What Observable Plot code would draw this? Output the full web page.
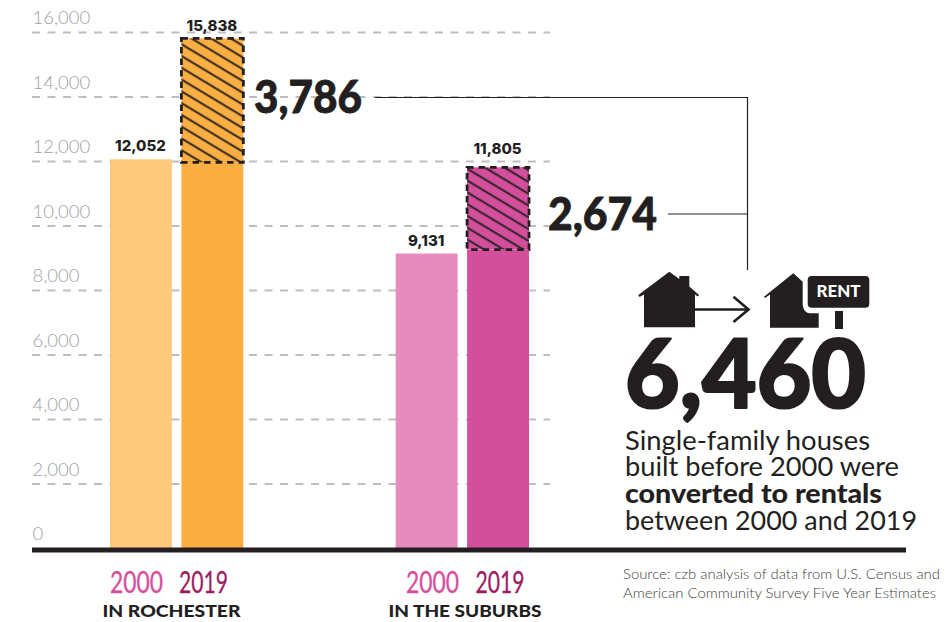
<!DOCTYPE html>
<html><head><meta charset="utf-8">
<style>html,body{margin:0;padding:0;background:#fff;overflow:hidden}svg{display:block}</style>
<script src="https://cdn.jsdelivr.net/npm/d3@7"></script>
<script src="https://cdn.jsdelivr.net/npm/@observablehq/plot@0.6"></script>
</head><body><script>
const slots = ["R2000","R2019","gapA","gapB","S2000","S2019"];
const barSlots = ["R2000","R2019","S2000","S2019"];
const barValues = [12052,15838,9131,11805];
const barColors = ["#fec97d","#fbae42","#e68bbb","#d34f9c"];
const solidTops = [12052,11960,9131,9255];
const labelLift = [-14,-12,-13,-19];
const hatchSlots = ["R2019","S2019"];
const hatchBases = [11960,9255];
const hatchTops = [15800,11805];
const hatchColors = ["#fbae42","#d34f9c"];
const yTicks = [0,2000,4000,6000,8000,10000,12000,14000,16000];
const INK = "#231f20", FONT = "Lato, 'Open Sans', sans-serif";

const bars = barSlots.map((s,i)=>({s,v:barValues[i],top:solidTops[i],c:barColors[i],lift:labelLift[i]}));
const hatches = hatchSlots.map((s,i)=>({s,b:hatchBases[i],t:hatchTops[i],c:hatchColors[i]}));

function decor() {
  const g = d3.create("svg:g");
  const pat = g.append("defs").append("pattern").attr("id","hatch")
    .attr("patternUnits","userSpaceOnUse").attr("width",10).attr("height",10.1)
    .attr("patternTransform","rotate(31)");
  pat.append("line").attr("x1",0).attr("x2",10).attr("y1",5).attr("y2",5)
    .attr("stroke",INK).attr("stroke-width",1.9);
  return g.node();
}
function annotations() {
  const g = d3.create("svg:g").attr("font-family",FONT).attr("fill",INK);
  const T = (x,y,s,o={}) => {
    const t = g.append("text").attr("x",x).attr("y",y).text(s)
      .attr("font-size",o.size||14).attr("font-weight",o.w||400)
      .attr("fill",o.fill||INK).attr("text-anchor",o.a||"start");
    if (o.len) t.attr("textLength",o.len).attr("lengthAdjust","spacingAndGlyphs");
    if (o.sw) t.attr("stroke",o.fill||INK).attr("stroke-width",o.sw).attr("stroke-linejoin","round");
    return t;
  };
  const P = (d,o={}) => g.append("path").attr("d",d).attr("fill",o.fill||"none")
    .attr("stroke",o.stroke||"none").attr("stroke-width",o.sw||1);
  P("M375 97.5H747.5V270M668 214H747.5",{stroke:INK,sw:1.2});
  T(254,113,"3,786",{size:46,w:900,len:108,sw:0.8});
  T(548,230,"2,674",{size:46,w:900,len:109,sw:0.8});
  P("M669.3 271.7L679.3 279V276H689.3V286.5L699 295L697.8 296.5L695 294.5V327.3H644V294.5L639.5 297L638.3 295Z",{fill:INK});
  P("M695 309.5H748M733.5 296.8L748.5 309.5L733.5 322",{stroke:INK,sw:2.6});
  P("M793.3 273.3L802.7 281.7V305Q804 313.3 810 313.3H818.7V327.7H770V294.5L765 298L764 296.7Z",{fill:INK});
  g.append("rect").attr("x",807.7).attr("y",276).attr("width",61.6).attr("height",31.7).attr("rx",4).attr("fill",INK);
  g.append("rect").attr("x",835).attr("y",311).attr("width",8).attr("height",18).attr("fill",INK);
  T(838.5,297,"RENT",{size:16,w:900,fill:"#fff",a:"middle",len:44});
  T(625,408,"6,460",{size:95,w:900,len:241,sw:2.2});
  T(625,450,"Single-family houses",{size:26.5,len:245});
  T(625,476,"built before 2000 were",{size:26.5,len:274});
  T(625,503,"converted to rentals",{size:26.5,w:900,len:257});
  T(625,530,"between 2000 and 2019",{size:26.5,len:292});
  T(623,579,"Source: czb analysis of data from U.S. Census and",{size:13.5,w:300,len:317,fill:"#414042"});
  T(623,598,"American Community Survey Five Year Estimates",{size:13.5,w:300,len:313,fill:"#414042"});
  T(136.5,593,"2000",{size:31,fill:"#d54f9c",a:"middle",len:53,sw:0.3});
  T(203.5,593,"2019",{size:31,fill:"#9c1c63",a:"middle",len:49,sw:0.3});
  T(432.5,593,"2000",{size:31,fill:"#d54f9c",a:"middle",len:53,sw:0.3});
  T(500,593,"2019",{size:31,fill:"#9c1c63",a:"middle",len:49,sw:0.3});
  T(171.5,617,"IN ROCHESTER",{size:16.5,w:900,a:"middle",len:138});
  T(465,617,"IN THE SUBURBS",{size:16.5,w:900,a:"middle",len:153});
  return g.node();
}

const valueLabels = [...new Set(labelLift)].map(lift =>
  Plot.text(bars.filter(d=>d.lift===lift),{x:"s",y:"v",text:d=>d3.format(",")(d.v),dy:lift,dx:-1,
    fontSize:15,fontWeight:800,fontFamily:"Inter, Lato, sans-serif",fill:INK}));

const chart = Plot.plot({
  width:947, height:622,
  marginLeft:32, marginRight:397, marginTop:0, marginBottom:0,
  style:{background:"#fff",fontFamily:FONT},
  x:{type:"band",domain:slots,range:[110,529],paddingInner:0.133,paddingOuter:0,round:false,axis:null},
  y:{domain:[0,16000],range:[548,32],axis:null},
  marks:[
    decor,
    Plot.gridY(yTicks.slice(1),{stroke:"#bcbec0",strokeOpacity:1,strokeWidth:2,strokeDasharray:"8 7.5"}),
    Plot.axisY(yTicks,{anchor:"left",tickSize:0,tickPadding:0,textAnchor:"start",dy:-14,
      fontSize:18.5,fontWeight:300,fill:"#a0a2a5",tickFormat:d3.format(","),label:null,marginLeft:32}),
    Plot.barY(bars,{x:"s",y1:0,y2:"top",fill:"c"}),
    Plot.barY(hatches,{x:"s",y1:"b",y2:"t",fill:"c"}),
    Plot.barY(hatches,{x:"s",y1:"b",y2:"t",fill:"url(#hatch)",stroke:INK,strokeWidth:2.8,strokeDasharray:"6.5 5"}),
    ...valueLabels,
    Plot.ruleY([0],{y:()=>0,stroke:INK,strokeWidth:5,dy:1.5,insetRight:-356}),
    annotations
  ]
});
document.body.appendChild(chart);
</script></body></html>
